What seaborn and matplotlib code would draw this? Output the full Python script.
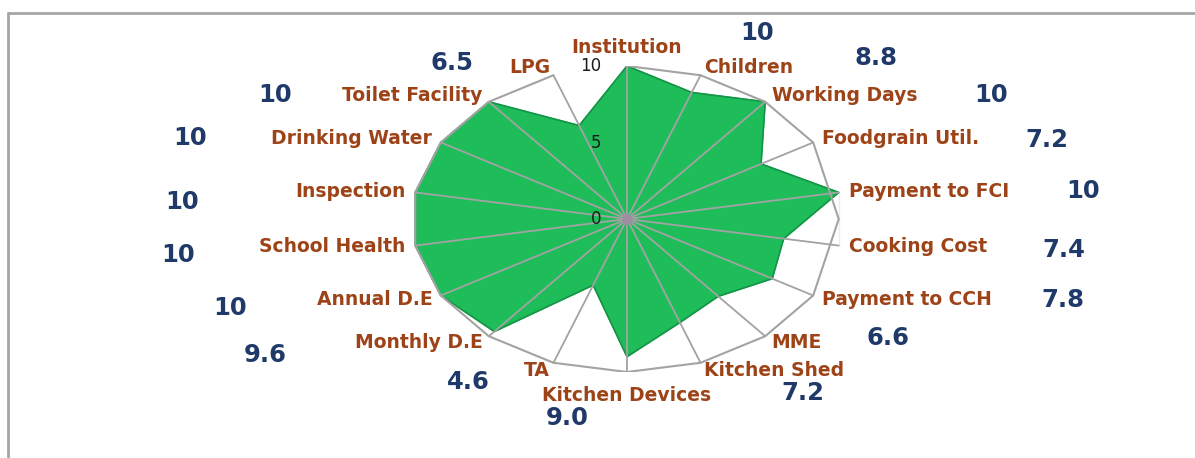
import numpy as np
import pandas as pd
import matplotlib
matplotlib.use("Agg")
import matplotlib.pyplot as plt
from matplotlib.lines import Line2D
import seaborn as sns

# --- data ---
categories = ["Institution", "Children", "Working Days", "Foodgrain Util.",
              "Payment to FCI", "Cooking Cost", "Payment to CCH", "MME",
              "Kitchen Shed", "Kitchen Devices", "TA", "Monthly D.E",
              "Annual D.E", "School Health", "Inspection", "Drinking Water",
              "Toilet Facility", "LPG"]
scores = [10, 8.8, 10, 7.2, 10, 7.4, 7.8, 6.6, 7.2, 9.0, 4.6, 9.6,
          10, 10, 10, 10, 10, 6.5]
score_labels = ["10", "8.8", "10", "7.2", "10", "7.4", "7.8", "6.6", "7.2",
                "9.0", "4.6", "9.6", "10", "10", "10", "10", "10", "6.5"]
r_ticks = [0, 5, 10]
r_max = 10

# where the blue score labels sit (pixels from top-left of the figure)
score_label_px = [(757, 33), (876, 58), (991, 95), (1047, 140), (1083, 191),
                  (1064, 250), (1063, 300), (888, 338), (803, 393), (567, 418),
                  (468, 382), (265, 355), (230, 308), (178, 255), (182, 202),
                  (190, 138), (275, 95), (452, 63)]

W, H = 1195, 458
GREEN = "#1FBD5A"
BROWN = "#9E4317"
NAVY = "#1F3A68"
GRID = "#A3A3A3"

sns.set_theme(style="white")
plt.rcParams['font.family'] = ['DejaVu Sans']

df = pd.DataFrame({"category": categories, "score": scores})
n = len(df)
df["angle"] = np.arange(n) * 2 * np.pi / n
df["x"] = df["score"] * np.sin(df["angle"])
df["y"] = df["score"] * np.cos(df["angle"])

fig = plt.figure(figsize=(W / 100, H / 100), dpi=100)
# centre at (627, 219) px, radius 215 px wide x 153 px tall
ax = fig.add_axes([(627 - 215) / W, (H - 219 - 153) / H, 430 / W, 306 / H])
ax.set_xlim(-r_max, r_max)
ax.set_ylim(-r_max, r_max)
ax.axis("off")

# filled score polygon
px_ = np.append(df["x"], df["x"].iloc[0])
py_ = np.append(df["y"], df["y"].iloc[0])
ax.fill(px_, py_, color=GREEN, zorder=2)
ax.plot(px_, py_, color="#159447", lw=1.2, zorder=2.5)

# outer ring + spokes
ring = pd.DataFrame({"x": r_max * np.sin(np.append(df["angle"], 0)),
                     "y": r_max * np.cos(np.append(df["angle"], 0))})
sns.lineplot(data=ring, x="x", y="y", sort=False, color=GRID, lw=1.5, ax=ax, zorder=3)
for a in df["angle"]:
    ax.plot([0, r_max * np.sin(a)], [0, r_max * np.cos(a)], color=GRID, lw=1.3, zorder=3)
ax.scatter([0], [0], s=60, color="#A08CA0", zorder=4, linewidths=0)
ax.set_xlabel("")
ax.set_ylabel("")

# radial tick labels
for t in r_ticks:
    ax.text(-1.2, t, str(t), ha="right", va="center", fontsize=12,
            color="#1A1A1A", zorder=5)

# category labels just outside spoke ends
for _, row in df.iterrows():
    s, c = np.sin(row["angle"]), np.cos(row["angle"])
    ex, ey = r_max * s, r_max * c
    if abs(s) < 0.1:
        ha = "center"
        va = "bottom" if c > 0 else "top"
        off = (0, 9) if c > 0 else (0, -14)
    else:
        ha = "left" if s > 0 else "right"
        va = "center"
        off = (10 * s, 8 * c)
    ax.annotate(row["category"], (ex, ey), xytext=off, textcoords="offset pixels",
                ha=ha, va=va, fontsize=13.5, fontweight="bold", color=BROWN,
                annotation_clip=False)

# blue score labels
for lbl, (px, py) in zip(score_labels, score_label_px):
    fig.text(px / W, 1 - py / H, lbl, ha="center", va="center", fontsize=17.5,
             fontweight="bold", color=NAVY)

# chart frame (top and left edges only)
fig.add_artist(Line2D([8 / W, 1], [1 - 13 / H, 1 - 13 / H], color="#A6A6A6", lw=2,
                      transform=fig.transFigure))
fig.add_artist(Line2D([8 / W, 8 / W], [0, 1 - 13 / H], color="#A6A6A6", lw=2,
                      transform=fig.transFigure))

fig.savefig("out.png", dpi=100)
